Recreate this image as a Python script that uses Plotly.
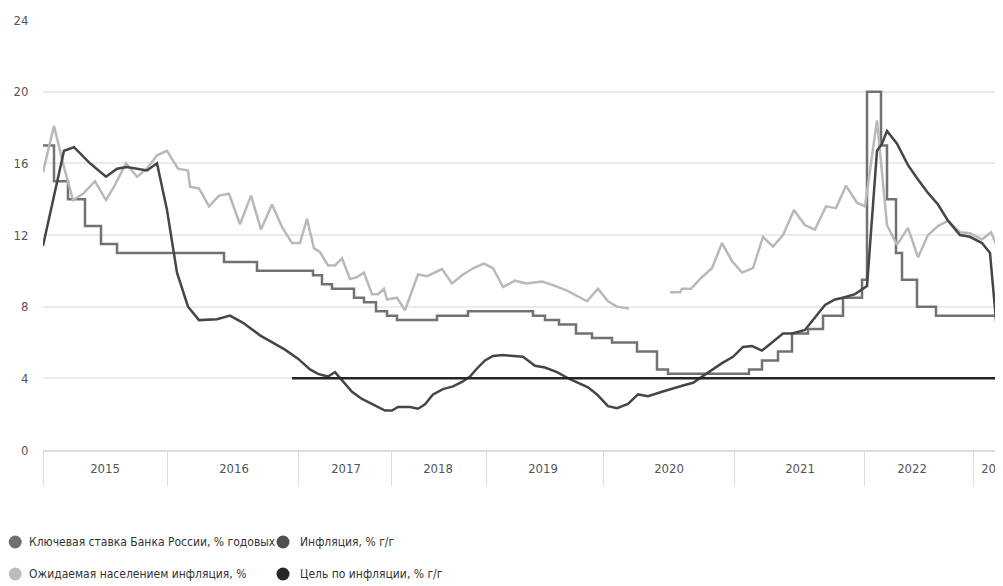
import plotly.graph_objects as go

# x positions are in chart "row" units along the time axis (0 = start of 2015)
year_labels = ["2015", "2016", "2017", "2018", "2019", "2020", "2021", "2022", "2023"]
year_bounds = [0, 12.4, 25.5, 34.8, 44.3, 56.0, 69.1, 82.1, 93.0]
year_centers = [6.2, 19.1, 30.3, 39.5, 50.0, 62.6, 75.7, 86.9, 95.3]

# Key rate (step series, change points)
kr_x = [0, 1.1, 2.5, 4.2, 5.8, 7.4, 18.1, 21.4, 27.0, 27.9, 28.9, 31.1, 32.1, 33.3, 34.4, 35.4,
        39.4, 42.5, 49.0, 50.2, 51.6, 53.3, 54.9, 56.9, 59.4, 61.4, 62.5, 70.6, 71.9, 73.5, 74.9,
        76.5, 78.0, 80.0, 81.9, 82.4, 83.8, 84.4, 85.3, 85.9, 87.4, 89.3, 96.0]
kr_y = [17, 15, 14, 12.5, 11.5, 11, 10.5, 10, 9.75, 9.25, 9.0, 8.5, 8.25, 7.75, 7.5, 7.25,
        7.5, 7.75, 7.5, 7.25, 7.0, 6.5, 6.25, 6.0, 5.5, 4.5, 4.25, 4.5, 5.0, 5.5, 6.5,
        6.75, 7.5, 8.5, 9.5, 20, 17, 14, 11, 9.5, 8.0, 7.5, 7.5]

# Inflation, % y/y
inf_x = [0, 2.1, 3.1, 4.7, 6.3, 7.4, 8.4, 10.4, 11.4, 12.4,
         13.4, 14.5, 15.6, 17.4, 18.7, 20.0, 21.7, 23.0, 24.2, 25.5,
         26.7, 27.5, 28.5, 29.2, 29.9, 30.9, 31.9, 33.2, 34.2, 34.9,
         35.5, 36.7, 37.5, 38.2, 39.0, 40.0, 41.0, 41.9, 42.7, 43.4,
         44.2, 45.0, 46.0, 48.0, 49.2, 50.2, 51.4, 52.7, 54.5, 55.4,
         56.5, 57.4, 58.5, 59.5, 60.5, 61.9, 63.0, 64.0, 65.0, 65.9,
         66.9, 67.9, 69.0, 70.0, 70.9, 71.9, 72.9, 74.0, 74.9, 76.2,
         78.2, 79.2, 80.0, 81.2, 82.4, 83.4, 83.9, 84.4, 85.4, 86.5,
         87.5, 88.5, 89.5, 90.5, 91.7, 92.7, 93.9, 94.7, 95.9]
inf_y = [11.4, 16.7, 16.9, 16.0, 15.25, 15.7, 15.8, 15.6, 16.0, 13.4,
         9.9, 8.0, 7.25, 7.3, 7.5, 7.1, 6.4, 6.0, 5.6, 5.1,
         4.5, 4.25, 4.1, 4.35, 3.9, 3.25, 2.85, 2.5, 2.2, 2.2,
         2.4, 2.4, 2.3, 2.55, 3.1, 3.4, 3.55, 3.8, 4.1, 4.55,
         5.0, 5.25, 5.3, 5.2, 4.7, 4.6, 4.35, 3.95, 3.5, 3.1,
         2.45, 2.33, 2.57, 3.1, 3.0, 3.25, 3.45, 3.6, 3.75, 4.1,
         4.45, 4.85, 5.2, 5.75, 5.8, 5.55, 6.0, 6.5, 6.5, 6.7,
         8.1, 8.4, 8.5, 8.7, 9.15, 16.7, 17.1, 17.8, 17.1, 15.9,
         15.1, 14.35, 13.7, 12.8, 12.0, 11.9, 11.55, 11.0, 3.5]

# Expected inflation (population), %
exp_x = [0, 1.1, 2.0, 3.0, 4.0, 5.2, 6.3, 7.2, 8.3, 9.4, 10.4, 11.4, 12.4, 13.5, 14.5, 14.7,
         15.6, 16.6, 17.6, 18.6, 19.7, 20.8, 21.8, 22.9, 23.9, 24.9, 25.7, 26.4, 27.1, 27.7,
         28.5, 29.2, 29.9, 30.7, 31.4, 32.1, 32.9, 33.5, 34.1, 34.4, 35.4, 36.2, 37.5, 38.4,
         39.9, 40.9, 42.0, 43.2, 44.1, 45.0, 46.0, 47.2, 48.3, 49.9, 51.0, 52.4, 54.4, 55.5,
         56.5, 57.4, 58.6, 62.0, 62.7, 63.7, 63.9, 64.8, 65.8, 66.9, 67.9, 68.9, 69.9, 71.0,
         72.0, 73.0, 74.0, 75.1, 76.2, 77.2, 78.3, 79.3, 80.3, 81.4, 82.2, 83.4, 84.4, 85.4,
         86.5, 87.5, 88.5, 89.5, 90.5, 91.7, 92.7, 93.9, 94.8, 95.9]
exp_y = [15.5, 18.1, 16.0, 13.95, 14.3, 15.0, 13.95, 14.8, 16.0, 15.25, 15.7, 16.45, 16.7, 15.7, 15.6, 14.7,
         14.6, 13.6, 14.2, 14.3, 12.6, 14.2, 12.3, 13.7, 12.45, 11.55, 11.55, 12.9, 11.25, 11.05,
         10.3, 10.3, 10.7, 9.55, 9.65, 9.9, 8.7, 8.7, 9.0, 8.4, 8.5, 7.8, 9.8, 9.7,
         10.1, 9.3, 9.8, 10.2, 10.4, 10.15, 9.1, 9.45, 9.3, 9.4, 9.2, 8.9, 8.3, 9.0,
         8.3, 8.0, 7.9, None, 8.8, 8.8, 9.0, 9.0, 9.6, 10.15, 11.55, 10.55, 9.9, 10.15,
         11.9, 11.35, 12.0, 13.4, 12.55, 12.3, 13.6, 13.5, 14.75, 13.8, 13.6, 18.4, 12.55, 11.45,
         12.4, 10.75, 12.0, 12.5, 12.8, 12.15, 12.1, 11.75, 12.15, 10.7]

# Inflation target
tgt_x = [24.9, 96.0]
tgt_y = [4, 4]

names = ["Ключевая ставка Банка России, % годовых", "Инфляция, % г/г",
         "Ожидаемая населением инфляция, %", "Цель по инфляции, % г/г"]
line_colors = ["#727272", "#464646", "#b9b9b9", "#252525"]
legend_colors = ["#707070", "#4f4f4f", "#bdbdbd", "#262626"]

FONT = "DejaVu Sans Condensed, Roboto, Arial, sans-serif"

W, H = 1003, 586
ML, MR, MT, MB = 35, 0, 12, 144
PW, PH = W - ML - MR, H - MT - MB

fig = go.Figure()
fig.add_trace(go.Scatter(x=kr_x, y=kr_y, mode="lines", name=names[0],
                         line=dict(color=line_colors[0], width=2.5, shape="hv"), hoverinfo="skip"))
fig.add_trace(go.Scatter(x=exp_x, y=exp_y, mode="lines", name=names[2],
                         line=dict(color=line_colors[2], width=2.5), connectgaps=False, hoverinfo="skip"))
fig.add_trace(go.Scatter(x=inf_x, y=inf_y, mode="lines", name=names[1],
                         line=dict(color=line_colors[1], width=2.5), hoverinfo="skip"))
fig.add_trace(go.Scatter(x=tgt_x, y=tgt_y, mode="lines", name=names[3],
                         line=dict(color=line_colors[3], width=2.5), xaxis="x2", hoverinfo="skip"))

# Legend (2 x 2 grid below the chart): circle swatch + label
swatch_cols = [7, 277]       # swatch centre, px from figure left
text_cols = [19, 292]        # label start, px from figure left
legend_rows = [534, 566]     # row centre, px from figure top
slots = [(0, 0), (1, 0), (0, 1), (1, 1)]  # (col, row) for names order
shapes, annotations = [], []
for i, (c, r) in enumerate(slots):
    py = (H - MB - legend_rows[r]) / PH
    shapes.append(dict(type="circle", xref="paper", yref="paper", xsizemode="pixel", ysizemode="pixel",
                       xanchor=(swatch_cols[c] - ML) / PW, yanchor=py, x0=-6.5, x1=6.5, y0=-6.5, y1=6.5,
                       fillcolor=legend_colors[i], line=dict(width=0)))
    annotations.append(dict(text=names[i], xref="paper", yref="paper",
                            x=(text_cols[c] - ML) / PW, y=py, xanchor="left", yanchor="middle",
                            showarrow=False, font=dict(size=12, color="#333333")))

fig.update_layout(
    width=W, height=H,
    margin=dict(l=ML, r=MR, t=MT, b=MB),
    paper_bgcolor="white", plot_bgcolor="white",
    font=dict(family=FONT, size=13, color="#555555"),
    showlegend=False,
    shapes=shapes, annotations=annotations,
    xaxis=dict(range=[0, 96], tickmode="array", tickvals=year_bounds, showticklabels=False,
               ticks="outside", ticklen=34, tickcolor="#dddddd", tickwidth=1,
               showgrid=False, zeroline=False, showline=True, linecolor="#dddddd", linewidth=1.5),
    xaxis2=dict(range=[0, 96], overlaying="x", anchor="y", side="bottom", tickmode="array",
                tickvals=year_centers, ticktext=year_labels, ticks="outside", ticklen=6,
                tickcolor="rgba(0,0,0,0)", showgrid=False, zeroline=False, showline=False,
                ticklabeloverflow="allow",
                tickfont=dict(size=13, color="#555555")),
    yaxis=dict(range=[0, 24], tickmode="array", tickvals=[0, 4, 8, 12, 16, 20, 24],
               ticks="outside", ticklen=11, tickcolor="rgba(0,0,0,0)",
               showgrid=True, gridcolor="#ebebeb", gridwidth=1.5, zeroline=False, showline=False,
               tickfont=dict(size=13, color="#555555")),
)

fig.write_html("out.html")
